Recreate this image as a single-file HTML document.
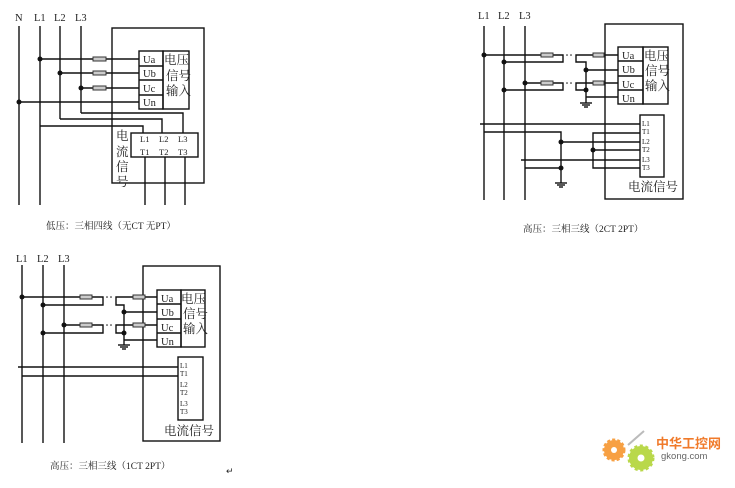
<!DOCTYPE html>
<html><head><meta charset="utf-8"><style>
html,body{margin:0;padding:0;background:#fff;}
svg{display:block}
text{font-family:"Liberation Serif","Noto Serif CJK SC",serif;fill:#222}
</style></head><body>
<svg width="735" height="488" viewBox="0 0 735 488" xmlns="http://www.w3.org/2000/svg">
<g stroke="#111" stroke-width="1.4" fill="none">
<!-- Diagram 1 -->
<line x1="19" y1="26" x2="19" y2="205"/><line x1="40" y1="26" x2="40" y2="205"/>
<line x1="60" y1="26" x2="60" y2="119"/><line x1="81" y1="26" x2="81" y2="113"/>
<rect x="112" y="28" width="92" height="155"/>
<line x1="40" y1="59" x2="139" y2="59"/><line x1="60" y1="73" x2="139" y2="73"/>
<line x1="81" y1="88" x2="139" y2="88"/><line x1="19" y1="102" x2="139" y2="102"/>
<polyline points="81,113 183,113 183,133"/><polyline points="60,119 162,119 162,133"/>
<polyline points="40,126 143,126 143,133"/>
<rect x="139" y="51" width="24" height="58"/><rect x="163" y="51" width="26" height="58"/>
<line x1="139" y1="66" x2="163" y2="66"/><line x1="139" y1="80" x2="163" y2="80"/><line x1="139" y1="95" x2="163" y2="95"/>
<rect x="131" y="133" width="67" height="24"/>
<line x1="145" y1="157" x2="145" y2="205"/><line x1="165" y1="157" x2="165" y2="205"/><line x1="185" y1="157" x2="185" y2="205"/>

<!-- Diagram 2 -->
<line x1="484" y1="26" x2="484" y2="200"/><line x1="504" y1="26" x2="504" y2="200"/><line x1="525" y1="26" x2="525" y2="200"/>
<rect x="605" y="24" width="78" height="175"/>
<rect x="618" y="47" width="25" height="57"/><rect x="643" y="47" width="25" height="57"/>
<line x1="618" y1="61" x2="643" y2="61"/><line x1="618" y1="76" x2="643" y2="76"/><line x1="618" y1="90" x2="643" y2="90"/>
<polyline points="484,55 563,55 563,62 504,62"/>
<polyline points="618,55 576,55 576,62 586,62 586,103"/>
<line x1="586" y1="70" x2="618" y2="70"/>
<polyline points="525,83 563,83 563,90 504,90"/>
<polyline points="618,83 576,83 576,90 586,90"/>
<line x1="586" y1="97" x2="618" y2="97"/>
<line x1="580" y1="103" x2="592" y2="103"/><line x1="582" y1="105" x2="590" y2="105"/><line x1="584" y1="107" x2="588" y2="107"/>
<line x1="480" y1="124" x2="640" y2="124"/>
<polyline points="484,132 561,132 561,183"/>
<line x1="561" y1="142" x2="640" y2="142"/>
<polyline points="640,133 593,133 593,168 640,168"/>
<line x1="593" y1="150" x2="640" y2="150"/>
<line x1="521" y1="160" x2="640" y2="160"/>
<line x1="525" y1="168" x2="561" y2="168"/>
<line x1="555" y1="183" x2="567" y2="183"/><line x1="557" y1="185" x2="565" y2="185"/><line x1="559" y1="187" x2="563" y2="187"/>
<rect x="640" y="115" width="24" height="62"/>

<!-- Diagram 3 -->
<line x1="22" y1="265" x2="22" y2="443"/><line x1="43" y1="265" x2="43" y2="443"/><line x1="64" y1="265" x2="64" y2="443"/>
<rect x="143" y="266" width="77" height="175"/>
<rect x="157" y="290" width="24" height="57"/><rect x="181" y="290" width="24" height="57"/>
<line x1="157" y1="304" x2="181" y2="304"/><line x1="157" y1="319" x2="181" y2="319"/><line x1="157" y1="333" x2="181" y2="333"/>
<polyline points="22,297 103,297 103,305 43,305"/>
<polyline points="157,297 116,297 116,305 124,305 124,345"/>
<line x1="124" y1="312" x2="157" y2="312"/>
<polyline points="64,325 103,325 103,333 43,333"/>
<polyline points="157,325 116,325 116,333 124,333"/>
<line x1="124" y1="340" x2="157" y2="340"/>
<line x1="118" y1="345" x2="130" y2="345"/><line x1="120" y1="347" x2="128" y2="347"/><line x1="122" y1="349" x2="126" y2="349"/>
<line x1="18" y1="367" x2="178" y2="367"/><line x1="22" y1="376" x2="178" y2="376"/>
<rect x="178" y="357" width="25" height="63"/>
</g>
<g fill="#ccc" stroke="#333" stroke-width="1">
<rect x="93" y="57" width="13" height="4"/><rect x="93" y="71" width="13" height="4"/><rect x="93" y="86" width="13" height="4"/>
<rect x="541" y="53" width="12" height="4"/><rect x="593" y="53" width="11" height="4"/>
<rect x="541" y="81" width="12" height="4"/><rect x="593" y="81" width="11" height="4"/>
<rect x="80" y="295" width="12" height="4"/><rect x="133" y="295" width="12" height="4"/>
<rect x="80" y="323" width="12" height="4"/><rect x="133" y="323" width="12" height="4"/>
</g>
<g fill="#111">
<circle cx="40" cy="59" r="2.5"/><circle cx="60" cy="73" r="2.5"/><circle cx="81" cy="88" r="2.5"/><circle cx="19" cy="102" r="2.5"/>
<circle cx="484" cy="55" r="2.5"/><circle cx="504" cy="62" r="2.5"/><circle cx="525" cy="83" r="2.5"/><circle cx="504" cy="90" r="2.5"/>
<circle cx="586" cy="70" r="2.5"/><circle cx="586" cy="90" r="2.5"/>
<circle cx="561" cy="142" r="2.5"/><circle cx="561" cy="168" r="2.5"/><circle cx="593" cy="150" r="2.5"/>
<circle cx="22" cy="297" r="2.5"/><circle cx="43" cy="305" r="2.5"/><circle cx="64" cy="325" r="2.5"/><circle cx="43" cy="333" r="2.5"/>
<circle cx="124" cy="312" r="2.5"/><circle cx="124" cy="333" r="2.5"/>
<circle cx="567" cy="55" r="0.8"/><circle cx="571" cy="55" r="0.8"/><circle cx="567" cy="83" r="0.8"/><circle cx="571" cy="83" r="0.8"/>
<circle cx="107" cy="297" r="0.8"/><circle cx="111" cy="297" r="0.8"/><circle cx="107" cy="325" r="0.8"/><circle cx="111" cy="325" r="0.8"/>
</g>
<g font-size="10.5">
<text x="15" y="21">N</text><text x="34" y="21">L1</text><text x="54" y="21">L2</text><text x="75" y="21">L3</text>
<text x="478" y="19">L1</text><text x="498" y="19">L2</text><text x="519" y="19">L3</text>
<text x="16" y="262">L1</text><text x="37" y="262">L2</text><text x="58" y="262">L3</text>
<text x="143" y="63">Ua</text><text x="143" y="77">Ub</text><text x="143" y="92">Uc</text><text x="143" y="106">Un</text>
<text x="622" y="59">Ua</text><text x="622" y="73">Ub</text><text x="622" y="88">Uc</text><text x="622" y="102">Un</text>
<text x="161" y="302">Ua</text><text x="161" y="316">Ub</text><text x="161" y="331">Uc</text><text x="161" y="345">Un</text>
</g>
<g font-size="12.5">
<text x="164" y="64">电压</text><text x="166" y="80">信号</text><text x="166" y="95">输入</text>
<text x="644" y="60">电压</text><text x="645" y="75">信号</text><text x="645" y="90">输入</text>
<text x="181" y="303">电压</text><text x="183" y="318">信号</text><text x="183" y="333">输入</text>
<text x="116" y="140">电</text><text x="116" y="156">流</text><text x="116" y="171">信</text><text x="116" y="186">号</text>
<text x="628" y="191">电流信号</text>
<text x="164" y="435">电流信号</text>
</g>
<g font-size="8.5">
<text x="140" y="142">L1</text><text x="159" y="142">L2</text><text x="178" y="142">L3</text>
<text x="140" y="155">T1</text><text x="159" y="155">T2</text><text x="178" y="155">T3</text>
</g>
<g font-size="7">
<text x="642" y="126">L1</text><text x="642" y="134">T1</text><text x="642" y="144">L2</text><text x="642" y="152">T2</text><text x="642" y="162">L3</text><text x="642" y="170">T3</text>
<text x="180" y="368">L1</text><text x="180" y="376">T1</text><text x="180" y="387">L2</text><text x="180" y="395">T2</text><text x="180" y="406">L3</text><text x="180" y="414">T3</text>
</g>
<g font-size="9.5">
<text x="46" y="229">低压：三相四线（无CT 无PT）</text>
<text x="523" y="232">高压：三相三线（2CT 2PT）</text>
<text x="50" y="469">高压：三相三线（1CT 2PT）</text>
<text x="226" y="474" font-size="9">↵</text>
</g>
<g>
<circle cx="614" cy="450" r="10" fill="#f7a043" stroke="#f7a043" stroke-width="3" stroke-dasharray="3 2"/>
<circle cx="614" cy="450" r="3" fill="#fff"/>
<circle cx="641" cy="458" r="12" fill="#b9d84a" stroke="#b9d84a" stroke-width="3" stroke-dasharray="3 2.5"/>
<circle cx="641" cy="458" r="3.5" fill="#fff"/>
<line x1="628" y1="445" x2="644" y2="431" stroke="#bbb" stroke-width="2"/>
<text x="656" y="448" font-size="13" font-weight="bold" style="fill:#f07a2a;font-family:'Liberation Sans','Noto Sans CJK SC',sans-serif">中华工控网</text>
<text x="661" y="459" font-size="9.5" style="fill:#666;font-family:'Liberation Sans',sans-serif">gkong.com</text>
</g>
</svg>
</body></html>
